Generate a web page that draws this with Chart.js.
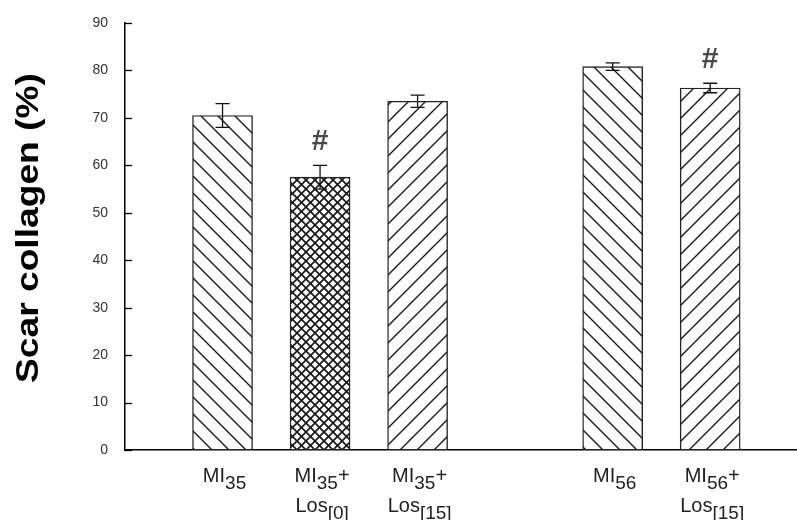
<!DOCTYPE html>
<html>
<head>
<meta charset="utf-8">
<script src="https://cdn.jsdelivr.net/npm/chart.js@4.4.1/dist/chart.umd.min.js"></script>
<style>
  html, body { margin: 0; padding: 0; background: #fff; }
  #wrap { width: 797px; height: 520px; }
</style>
</head>
<body>
<div id="wrap"><canvas id="collagenChart"></canvas></div>
<script>
'use strict';

/**
 * data
 */

const groupNames = ['MI35', 'MI35+Los[0]', 'MI35+Los[15]', 'MI56', 'MI56+Los[15]'];
const groupSlots = [1, 2, 3, 5, 6];
const scarCollagen = [70.5, 57.5, 73.5, 80.8, 76.3];
const scarSem = [2.5, 2.5, 1.3, 0.8, 1.0];
const significant = [false, true, false, false, true];
const hatchKinds = ['back', 'cross', 'fwd', 'back', 'fwd'];
const yTickStep = 10;
const yMax = 90;

// each label: lines -> [text, subscript, trailing]
const labelLines = [
  [['MI', '35', '']],
  [['MI', '35', '+'], ['Los', '[0]', '']],
  [['MI', '35', '+'], ['Los', '[15]', '']],
  [['MI', '56', '']],
  [['MI', '56', '+'], ['Los', '[15]', '']]
];

const FONT = "'Liberation Sans', Arial, sans-serif";


/**
 * hatch patterns
 */

const makePattern = function (kind) {
  const s = kind === 'cross' ? 9 : 17;
  const c = document.createElement('canvas');
  c.width = s;
  c.height = s;
  const g = c.getContext('2d');
  g.fillStyle = '#fff';
  g.fillRect(0, 0, s, s);
  g.strokeStyle = '#1a1a1a';
  g.lineWidth = kind === 'cross' ? 1.7 : 1.4;
  g.lineCap = 'square';

  const back = function () {
    g.beginPath();
    g.moveTo(-1, -1); g.lineTo(s + 1, s + 1);
    g.moveTo(-s - 1, -1); g.lineTo(1, s + 1);
    g.moveTo(s - 1, -1); g.lineTo(2 * s + 1, s + 1);
    g.stroke();
  };
  const fwd = function () {
    g.beginPath();
    g.moveTo(-1, s + 1); g.lineTo(s + 1, -1);
    g.moveTo(-s - 1, s + 1); g.lineTo(1, -1);
    g.moveTo(s - 1, s + 1); g.lineTo(2 * s + 1, -1);
    g.stroke();
  };

  if (kind === 'back') back();
  if (kind === 'fwd') fwd();
  if (kind === 'cross') { back(); fwd(); }

  return g.createPattern(c, 'repeat');
};

const barFills = hatchKinds.map(makePattern);


/**
 * extras: error bars, # marks, tick marks, x labels, y title
 */

const extrasPlugin = {
  id: 'extras',
  afterDatasetsDraw(chart) {
    const ctx = chart.ctx;
    const xs = chart.scales.x;
    const ys = chart.scales.y;

    ctx.save();

    // inward tick marks on y axis
    ctx.strokeStyle = '#000';
    ctx.lineWidth = 1.3;
    for (let v = 0; v <= yMax; v += yTickStep) {
      const py = Math.round(ys.getPixelForValue(v)) + 0.5;
      ctx.beginPath();
      ctx.moveTo(xs.left, py);
      ctx.lineTo(xs.left + 7, py);
      ctx.stroke();
    }

    // error bars
    ctx.strokeStyle = '#111';
    ctx.lineWidth = 1.3;
    for (let i = 0; i < scarCollagen.length; i++) {
      const px = xs.getPixelForValue(groupSlots[i]);
      const top = ys.getPixelForValue(scarCollagen[i] + scarSem[i]);
      const bot = ys.getPixelForValue(scarCollagen[i] - scarSem[i]);
      ctx.beginPath();
      ctx.moveTo(px, top); ctx.lineTo(px, bot);
      ctx.moveTo(px - 7, top); ctx.lineTo(px + 7, top);
      ctx.moveTo(px - 7, bot); ctx.lineTo(px + 7, bot);
      ctx.stroke();

      if (significant[i]) {
        ctx.fillStyle = '#4a4a4a';
        ctx.font = 'bold 30px ' + FONT;
        ctx.textAlign = 'center';
        ctx.textBaseline = 'alphabetic';
        ctx.fillText('#', px, top - 15);
      }
    }

    // x labels with subscripts
    ctx.fillStyle = '#222';
    ctx.textBaseline = 'alphabetic';
    ctx.textAlign = 'left';
    for (let i = 0; i < labelLines.length; i++) {
      const cx = xs.getPixelForValue(groupSlots[i]) + 2;
      labelLines[i].forEach(function (line, li) {
        const base = 482 + li * 30;
        ctx.font = '20px ' + FONT;
        const w0 = ctx.measureText(line[0]).width;
        const w2 = ctx.measureText(line[2]).width;
        ctx.font = '19px ' + FONT;
        const w1 = ctx.measureText(line[1]).width;
        let x = cx - (w0 + w1 + w2) / 2;
        ctx.font = '20px ' + FONT;
        ctx.fillText(line[0], x, base);
        x += w0;
        ctx.font = '19px ' + FONT;
        ctx.fillText(line[1], x, base + 7);
        x += w1;
        ctx.font = '20px ' + FONT;
        ctx.fillText(line[2], x, base);
      });
    }

    // y axis title, stretched like the original
    const title = 'Scar collagen (%)';
    ctx.font = 'bold 32px ' + FONT;
    const tw = ctx.measureText(title).width;
    ctx.translate(38, 228);
    ctx.rotate(-Math.PI / 2);
    ctx.scale(310 / tw, 1);
    ctx.fillStyle = '#000';
    ctx.textAlign = 'center';
    ctx.fillText(title, 0, 0);

    ctx.restore();
  }
};


/**
 * chart
 */

const chartCtx = document.getElementById('collagenChart').getContext('2d');

new Chart(chartCtx, {
  type: 'bar',
  data: {
    datasets: [{
      label: 'Scar collagen (%)',
      data: groupSlots.map((s, i) => ({ x: s, y: scarCollagen[i] })),
      backgroundColor: barFills,
      borderColor: '#222',
      borderWidth: 1.4,
      borderSkipped: false,
      barThickness: 60
    }]
  },
  options: {
    responsive: true,
    maintainAspectRatio: false,
    animation: false,
    layout: { padding: { top: 23, right: 0, left: 0, bottom: 0 } },
    plugins: {
      legend: { display: false },
      tooltip: { enabled: false }
    },
    scales: {
      x: {
        type: 'linear',
        offset: false,
        min: 0,
        max: 6.89,
        ticks: { display: false },
        grid: { display: false },
        border: { display: true, color: '#000', width: 1.5 },
        afterFit(scale) { scale.height = 70; }
      },
      y: {
        min: 0,
        max: yMax,
        ticks: {
          stepSize: yTickStep,
          padding: 9,
          color: '#333',
          font: { family: FONT, size: 14 }
        },
        grid: { display: false },
        border: { display: true, color: '#000', width: 1.5 },
        afterFit(scale) { scale.width = 125; }
      }
    }
  },
  plugins: [extrasPlugin]
});
</script>
</body>
</html>
